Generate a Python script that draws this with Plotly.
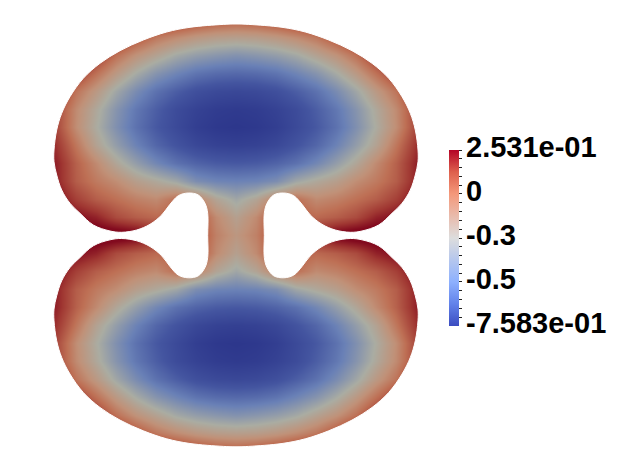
import plotly.graph_objects as go

grid_x = [36, 56, 76, 96, 116, 136, 156, 176, 196, 216, 236, 256, 276, 296, 316, 336, 356, 376, 396, 416, 436]
grid_y = [19, 37, 55, 73, 91, 109, 127, 145, 163, 181, 199, 217, 235, 253, 271, 289, 307, 325, 343, 361, 379, 397, 415, 433, 451]
field = [
    [.25, .25, .25, .25, .25, .25, .22, .17, .12, .08, .06, .08, .12, .17, .22, .25, .25, .25, .25, .25, .25],
    [.25, .25, .25, .25, .19, .08, -.02, -.08, -.13, -.16, -.17, -.16, -.13, -.08, -.02, .08, .19, .25, .25, .25, .25],
    [.25, .25, .25, .15, 0, -.11, -.19, -.27, -.32, -.35, -.37, -.35, -.32, -.27, -.19, -.11, 0, .15, .25, .25, .25],
    [.25, .25, .14, 0, -.14, -.26, -.36, -.43, -.49, -.52, -.53, -.52, -.49, -.43, -.36, -.26, -.14, 0, .14, .25, .25],
    [.25, .18, -.01, -.14, -.28, -.40, -.50, -.57, -.63, -.66, -.67, -.66, -.63, -.57, -.50, -.40, -.28, -.14, -.01, .18, .25],
    [.25, .11, -.08, -.22, -.36, -.48, -.57, -.65, -.70, -.73, -.74, -.73, -.70, -.65, -.57, -.48, -.36, -.22, -.08, .11, .25],
    [.25, .11, -.09, -.24, -.38, -.50, -.59, -.66, -.72, -.75, -.76, -.75, -.72, -.66, -.59, -.50, -.38, -.24, -.09, .11, .25],
    [.25, .16, -.02, -.19, -.32, -.44, -.54, -.61, -.67, -.70, -.71, -.70, -.67, -.61, -.54, -.44, -.32, -.19, -.02, .16, .25],
    [.25, .20, .04, -.08, -.21, -.32, -.42, -.50, -.55, -.58, -.59, -.58, -.55, -.50, -.42, -.32, -.21, -.08, .04, .20, .25],
    [.25, .20, .05, -.03, -.09, -.17, -.22, -.28, -.39, -.43, -.44, -.43, -.39, -.28, -.22, -.17, -.09, -.03, .05, .20, .25],
    [.25, .25, .13, .05, 0, -.05, -.08, 0, -.05, -.20, -.28, -.20, -.05, 0, -.08, -.05, 0, .05, .13, .25, .25],
    [.25, .25, .25, .20, .10, .05, .02, .05, .10, -.08, -.18, -.08, .10, .05, .02, .05, .10, .20, .25, .25, .25],
    [.25, .25, .25, .33, .33, .30, .20, .15, .12, -.05, -.13, -.05, .12, .15, .20, .30, .33, .33, .25, .25, .25],
    [.25, .25, .25, .20, .10, .05, .02, .05, .10, -.08, -.18, -.08, .10, .05, .02, .05, .10, .20, .25, .25, .25],
    [.25, .25, .13, .05, 0, -.05, -.08, 0, -.05, -.20, -.28, -.20, -.05, 0, -.08, -.05, 0, .05, .13, .25, .25],
    [.25, .20, .05, -.03, -.09, -.17, -.22, -.28, -.39, -.43, -.44, -.43, -.39, -.28, -.22, -.17, -.09, -.03, .05, .20, .25],
    [.25, .20, .04, -.08, -.21, -.32, -.42, -.50, -.55, -.58, -.59, -.58, -.55, -.50, -.42, -.32, -.21, -.08, .04, .20, .25],
    [.25, .16, -.02, -.19, -.32, -.44, -.54, -.61, -.67, -.70, -.71, -.70, -.67, -.61, -.54, -.44, -.32, -.19, -.02, .16, .25],
    [.25, .11, -.09, -.24, -.38, -.50, -.59, -.66, -.72, -.75, -.76, -.75, -.72, -.66, -.59, -.50, -.38, -.24, -.09, .11, .25],
    [.25, .11, -.08, -.22, -.36, -.48, -.57, -.65, -.70, -.73, -.74, -.73, -.70, -.65, -.57, -.48, -.36, -.22, -.08, .11, .25],
    [.25, .18, -.01, -.14, -.28, -.40, -.50, -.57, -.63, -.66, -.67, -.66, -.63, -.57, -.50, -.40, -.28, -.14, -.01, .18, .25],
    [.25, .25, .14, 0, -.14, -.26, -.36, -.43, -.49, -.52, -.53, -.52, -.49, -.43, -.36, -.26, -.14, 0, .14, .25, .25],
    [.25, .25, .25, .15, 0, -.11, -.19, -.27, -.32, -.35, -.37, -.35, -.32, -.27, -.19, -.11, 0, .15, .25, .25, .25],
    [.25, .25, .25, .25, .19, .08, -.02, -.08, -.13, -.16, -.17, -.16, -.13, -.08, -.02, .08, .19, .25, .25, .25, .25],
    [.25, .25, .25, .25, .25, .25, .22, .17, .12, .08, .06, .08, .12, .17, .22, .25, .25, .25, .25, .25, .25],
]

# Quarter of the domain outline (top centre to the neck)
outline_x = [236, 223.3, 190, 166.7, 143.3, 120, 100, 83.3, 70, 61.7, 56.7, 54, 54, 56.7, 61.7, 70, 80, 93.3, 110, 121.7,
             136.7, 150, 161.7, 170, 178.3, 188.3, 198.3, 205, 207.7, 207.7]
outline_y = [24, 24.4, 27.3, 32, 40, 50.7, 63.3, 78.3, 96.7, 113.3, 130, 150, 161.7, 175, 190, 203.3, 213.3, 225, 231, 232.3,
             230, 224.3, 215, 204.3, 195.7, 193, 195, 203.3, 213.3, 235.4]
MIRROR_X, MIRROR_Y = 472, 470.8
PAGE_MARGIN = 8

value_min, value_max = -0.7583, 0.2531
tick_values = [0.2531, 0.2025, 0.1520, 0.1014, 0.0508, 0.0003, -0.0503, -0.1008, -0.1514, -0.2020,
               -0.2526, -0.3032, -0.3537, -0.4043, -0.4549, -0.5054, -0.5560, -0.6066, -0.6572, -0.7077]
label_values = [0.2531, 0.0003, -0.2526, -0.5054, -0.7583]
label_text = ["2.531e-01", "0", "-0.3", "-0.5", "-7.583e-01"]

surface_scale = [
    [0.0, "rgb(45,55,140)"], [0.156, "rgb(68,85,160)"], [0.305, "rgb(105,128,182)"],
    [0.503, "rgb(170,172,162)"], [0.65, "rgb(192,145,120)"], [0.75, "rgb(190,112,85)"],
    [0.9, "rgb(160,55,50)"], [1.0, "rgb(130,10,30)"],
]
bar_scale = [
    [0.0, "rgb(59,76,192)"], [0.125, "rgb(98,130,234)"], [0.25, "rgb(141,176,254)"],
    [0.5, "rgb(221,221,221)"], [0.75, "rgb(244,152,122)"], [0.875, "rgb(222,96,77)"], [1.0, "rgb(180,4,38)"],
]

# Assemble the closed outline by reflecting the quarter across the two symmetry axes
lx = list(outline_x) + list(outline_x[-2::-1])
ly = list(outline_y) + [MIRROR_Y - v for v in outline_y[-2::-1]]
rx = [MIRROR_X - v for v in lx[-2::-1]]
ry = list(ly[-2::-1])
path_x = lx + rx
path_y = ly + ry
mask_x = [-100, 724, 724, -100, -100, None] + path_x
mask_y = [-100, -100, 564, 564, -100, None] + path_y

BAR_TOP, BAR_LEN = 150, 176
W, H = 624 - PAGE_MARGIN, 464 - PAGE_MARGIN
fig = go.Figure()
fig.add_trace(go.Heatmap(x=grid_x, y=grid_y, z=field, zmin=value_min, zmax=value_max, zsmooth="best",
                         colorscale=surface_scale, showscale=False, hoverinfo="skip"))
fig.add_trace(go.Scatter(x=mask_x, y=mask_y, mode="lines", fill="toself", fillcolor="white",
                         line=dict(color="white", width=1, shape="spline", smoothing=1.0),
                         hoverinfo="skip", showlegend=False))
fig.add_trace(go.Scatter(
    x=[-50, -50], y=[-50, -50], mode="markers", showlegend=False, hoverinfo="skip",
    marker=dict(color=[value_min, value_max], cmin=value_min, cmax=value_max, colorscale=bar_scale, size=1,
                colorbar=dict(x=(449 - PAGE_MARGIN) / W, xanchor="left", xref="paper",
                              y=1 - (BAR_TOP - PAGE_MARGIN) / H, yanchor="top", yref="paper",
                              len=BAR_LEN / H, lenmode="fraction", thickness=10, thicknessmode="pixels",
                              outlinewidth=0, borderwidth=0, xpad=0, ypad=0,
                              tickmode="array", tickvals=tick_values, showticklabels=False,
                              ticks="outside", ticklen=3, tickwidth=1, tickcolor="#222222"))))
for value, text in zip(label_values, label_text):
    fig.add_annotation(x=465, y=BAR_TOP + (value_max - value) / (value_max - value_min) * BAR_LEN - 3,
                       xref="x", yref="y", xanchor="left", yanchor="middle", text=text, showarrow=False,
                       font=dict(family="Liberation Sans", size=29, color="black", weight=700), borderpad=0)
fig.update_layout(width=W, height=H, margin=dict(l=0, r=0, t=0, b=0),
                  paper_bgcolor="white", plot_bgcolor="white", showlegend=False,
                  xaxis=dict(range=[PAGE_MARGIN, 624], visible=False, fixedrange=True),
                  yaxis=dict(range=[464, PAGE_MARGIN], visible=False, fixedrange=True))
fig.write_html("out.html", config={"displayModeBar": False})
